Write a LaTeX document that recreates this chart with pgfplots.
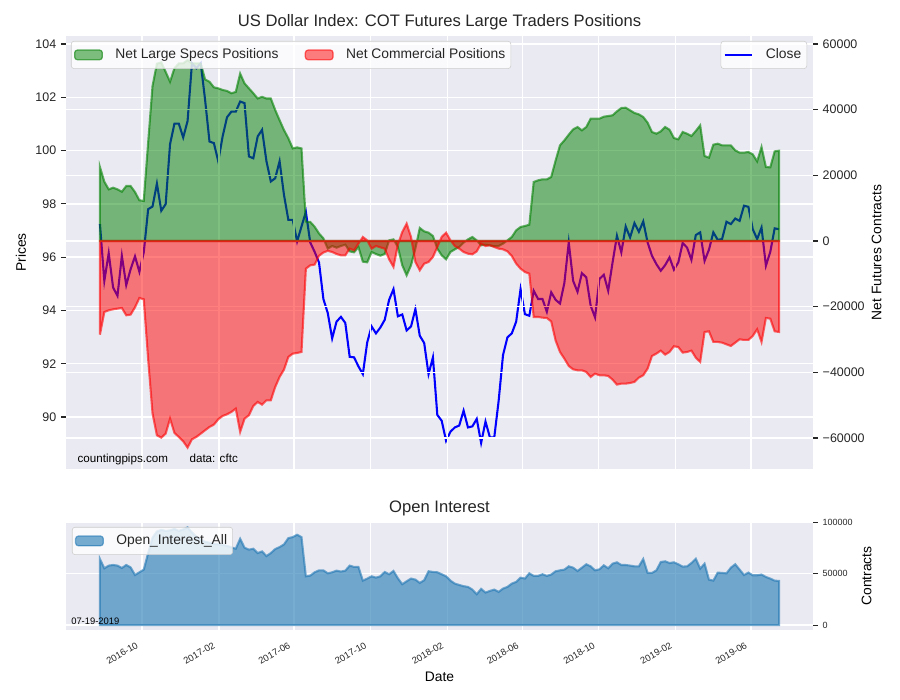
\documentclass[border=0pt]{standalone}
\usepackage{pgfplots}
\pgfplotsset{compat=1.18}
\usepackage{fontspec}
\setmainfont{Liberation Sans}
\definecolor{bg}{HTML}{EAEAF2}
\definecolor{txt}{HTML}{262626}
\definecolor{lgedge}{HTML}{CCCCCC}
\definecolor{mgreen}{RGB}{0,128,0}
\definecolor{mplblue}{HTML}{1F77B4}
\pgfplotsset{
  base/.style={
    scale only axis, width=7.47in, xmin=-121.25, xmax=1072.25,
    scaled y ticks=false, scaled x ticks=false,
    axis line style={draw=none},
    grid=major, grid style={white, line width=1pt},
    xtick={0,123,243,365,488,608,730,853,973},
    xtick style={draw=none},
    tick align=outside, major tick length=3.5pt,
    ytick style={color=txt, line width=0.8pt},
    tick label style={text=txt},
    label style={text=black, font=\fontsize{10}{12}\selectfont},
    /pgf/number format/assume math mode=true,
    legend style={fill=white, fill opacity=0.8, text opacity=1, draw=lgedge, draw opacity=1,
      rounded corners=2pt, font=\fontsize{10}{12}\selectfont, text=txt,
      inner xsep=2pt, inner ysep=3.5pt, nodes={inner sep=2pt},
      /tikz/every odd column/.append style={column sep=7pt},
      /tikz/every even column/.append style={column sep=17pt}},
    legend cell align=left,
  },
  arealeg/.style={legend image code/.code={\draw[##1, line width=0.9pt] (0pt,-3.5pt) rectangle (20pt,3.5pt);}},
  lineleg/.style={legend image code/.code={\draw[##1] (0pt,0pt) -- (20pt,0pt);}},
}
\begin{document}
\begin{tikzpicture}
\path[use as bounding box] (0,0) rectangle (9in,7in);

% ---------- top panel: prices ----------
\begin{axis}[base, at={(0.66in,2.31in)}, anchor=south west, height=4.33in,
  ymin=88.05, ymax=104.3,
  axis background/.style={fill=bg},
  xticklabels={},
  ytick={90,92,94,96,98,100,102,104},
  ytick pos=left,
  yticklabel style={font=\fontsize{9}{10}\selectfont},
  ylabel={Prices}, ylabel style={at={(axis description cs:-0.0602,0.5)}, anchor=center},
]
\addplot[blue, line width=1.5pt] coordinates {
(-67,97.24) (-60,95.11) (-53,96.15) (-46,94.86) (-39,94.55) (-32,96.05) (-25,94.95) (-18,95.55) (-11,96.03) (-4,95.45) (3,96.18) (10,97.8) (17,97.9) (24,98.76) (31,97.74) (38,97.99) (45,100.24) (52,101.01) (59,101.01) (66,100.49) (73,101.11) (80,103.28) (87,103.09) (94,103.28) (101,101.9) (108,100.34) (115,100.28) (122,99.6) (129,100.53) (136,101.25) (143,101.46) (150,101.46) (157,101.84) (164,101.78) (171,99.78) (178,99.71) (185,100.53) (192,100.78) (199,99.6) (206,98.84) (213,98.96) (220,99.6) (227,98.34) (234,97.4) (241,97.4) (248,96.59) (255,97.15) (262,97.7) (269,96.55) (276,96.2) (283,95.8) (290,94.43) (297,93.9) (304,92.95) (311,93.58) (318,93.76) (325,93.53) (332,92.26) (339,92.24) (346,91.9) (353,91.61) (360,92.8) (367,93.4) (374,93.14) (381,93.36) (388,93.65) (395,94.4) (402,94.8) (409,93.78) (416,93.85) (423,93.25) (430,93.4) (437,94.05) (444,93.05) (451,92.78) (458,91.61) (465,92.24) (472,90.08) (479,89.86) (486,89.11) (493,89.45) (500,89.61) (507,89.68) (514,90.24) (521,89.61) (528,89.65) (535,89.93) (542,89.03) (549,89.83) (556,89.24) (563,89.24) (570,90.61) (577,92.33) (584,92.99) (591,93.14) (598,93.58) (605,94.8) (612,93.86) (619,93.8) (626,94.74) (633,94.43) (640,94.43) (647,93.95) (654,94.68) (661,94.4) (668,94.26) (675,95.03) (682,96.55) (689,95.11) (696,94.7) (703,95.4) (710,95.24) (717,94.18) (724,93.74) (731,95.18) (738,95.34) (745,94.74) (752,95.8) (759,96.8) (766,96.18) (773,97.15) (780,96.74) (787,97.28) (794,96.95) (801,97.34) (808,96.55) (815,96.05) (822,95.74) (829,95.49) (836,95.7) (843,95.99) (850,95.53) (857,95.8) (864,96.53) (871,96.36) (878,95.9) (885,96.83) (892,96.93) (899,95.86) (906,96.28) (913,96.93) (920,96.65) (927,96.68) (934,97.33) (941,97.24) (948,97.45) (955,97.36) (962,97.93) (969,97.89) (976,97.05) (983,96.68) (990,97.11) (997,95.68) (1004,96.2) (1011,97.08) (1018,97.05)
};
\end{axis}

% ---------- top panel: net positions ----------
\begin{axis}[base, at={(0.66in,2.31in)}, anchor=south west, height=4.33in,
  ymin=-69440, ymax=62440,
  xticklabels={},
  ytick={-60000,-40000,-20000,0,20000,40000,60000},
  yticklabels={−60000,−40000,−20000,0,20000,40000,60000},
  ytick pos=right, yticklabel pos=right,
  yticklabel style={font=\fontsize{9}{10}\selectfont},
  ylabel={Net Futures Contracts}, ylabel style={at={(axis description cs:1.0853,0.5)}, anchor=center},
  legend columns=2,
  legend style={at={(0,1)}, anchor=north west, xshift=3.6pt, yshift=-3.6pt},
]
\addplot[arealeg, fill=mgreen, fill opacity=0.5, draw=mgreen, draw opacity=0.6, line width=1.5pt] coordinates {
(-67,0) (-67,22500) (-60,18050) (-53,15730) (-46,16230) (-39,15730) (-32,15010) (-25,16740) (-18,16740) (-11,14900) (-4,12400) (3,12200) (10,30000) (17,47200) (24,54000) (31,54400) (38,51500) (45,48500) (52,52600) (59,54100) (66,54100) (73,55100) (80,54100) (87,54100) (94,54100) (101,49200) (108,48500) (115,46800) (122,46500) (129,46000) (136,45700) (143,45000) (150,45400) (157,51000) (164,48000) (171,46500) (178,45000) (185,43400) (192,43900) (199,43400) (206,43400) (213,39900) (220,36800) (227,33800) (234,31300) (241,28200) (248,28500) (255,28200) (262,5900) (269,5800) (276,4350) (283,2300) (290,800) (297,-2330) (304,-1520) (311,-2030) (318,-1520) (325,-1120) (332,-3150) (339,-3450) (346,-1830) (353,-6290) (360,-6500) (367,-3350) (374,-3960) (381,-4470) (388,-3960) (395,200) (402,500) (409,-1830) (416,-7400) (423,-10450) (430,-7400) (437,-2300) (444,3960) (451,2940) (458,2540) (465,1520) (472,-2330) (479,-4360) (486,-5580) (493,-3350) (500,-2540) (507,-1830) (514,-500) (521,500) (528,1220) (535,200) (542,-1320) (549,-1120) (556,-1320) (563,-1620) (570,-1520) (577,-800) (584,200) (591,1220) (598,3250) (605,4260) (612,4570) (619,4970) (626,17970) (633,18470) (640,18780) (647,18780) (654,19500) (661,24500) (668,29130) (675,30650) (682,32380) (689,34000) (696,34710) (703,33700) (710,34710) (717,37250) (724,37250) (731,37250) (738,37860) (745,38060) (752,38270) (759,39480) (766,40500) (773,40600) (780,39790) (787,38980) (794,38570) (801,37760) (808,36030) (815,33190) (822,32680) (829,33390) (836,34710) (843,33900) (850,31360) (857,30960) (864,33190) (871,32680) (878,31970) (885,33500) (892,35220) (899,25880) (906,25380) (913,29330) (920,29640) (927,29130) (934,29130) (941,29130) (948,27610) (955,26900) (962,26900) (969,27100) (976,26390) (983,24260) (990,28620) (997,22530) (1004,22430) (1011,27300) (1018,27500) (1018,0)
} -- cycle;
\addlegendentry{Net Large Specs Positions}
\addplot[arealeg, fill=red, fill opacity=0.5, draw=red, draw opacity=0.6, line width=1.5pt] coordinates {
(-67,0) (-67,-28520) (-60,-21620) (-53,-21110) (-46,-20810) (-39,-20600) (-32,-20400) (-25,-22630) (-18,-22430) (-11,-20200) (-4,-17360) (3,-17760) (10,-36000) (17,-52500) (24,-59170) (31,-59890) (38,-58670) (45,-54100) (52,-58460) (59,-59680) (66,-61000) (73,-62930) (80,-60390) (87,-59680) (94,-58670) (101,-57650) (108,-56640) (115,-55930) (122,-54300) (129,-53290) (136,-52780) (143,-52070) (150,-51050) (157,-58160) (164,-54100) (171,-53080) (178,-50240) (185,-49020) (192,-49840) (199,-48520) (206,-48520) (213,-44460) (220,-41410) (227,-39180) (234,-35320) (241,-34310) (248,-34100) (255,-33800) (262,-8430) (269,-7410) (276,-7200) (283,-4500) (290,-3500) (297,-3000) (304,-3350) (311,-3960) (318,-4360) (325,-4360) (332,-2330) (339,-2840) (346,-810) (353,1220) (360,200) (367,-2330) (374,-1520) (381,-1930) (388,-2330) (395,-5580) (402,-7900) (409,-1120) (416,2740) (423,5280) (430,1220) (437,-6400) (444,-8930) (451,-6900) (458,-6400) (465,-4870) (472,-1830) (479,1220) (486,2540) (493,200) (500,-1520) (507,-2330) (514,-3350) (521,-3860) (528,-4060) (535,-3150) (542,-800) (549,-1520) (556,-1320) (563,-1830) (570,-2330) (577,-2540) (584,-3150) (591,-4570) (598,-6900) (605,-8420) (612,-9440) (619,-9950) (626,-23140) (633,-23140) (640,-23350) (647,-23450) (654,-24500) (661,-30300) (668,-33800) (675,-35830) (682,-38060) (689,-39080) (696,-39380) (703,-39380) (710,-39890) (717,-41410) (724,-40400) (731,-40900) (738,-40900) (745,-41100) (752,-42220) (759,-43740) (766,-43440) (773,-43440) (780,-43240) (787,-42930) (794,-41620) (801,-40900) (808,-38870) (815,-35020) (822,-34300) (829,-33390) (836,-34610) (843,-33800) (850,-32070) (857,-32280) (864,-34000) (871,-33800) (878,-33390) (885,-35530) (892,-36840) (899,-27710) (906,-27510) (913,-30750) (920,-30750) (927,-30960) (934,-31470) (941,-31970) (948,-30960) (955,-29940) (962,-30140) (969,-30140) (976,-28930) (983,-26900) (990,-30750) (997,-23450) (1004,-23650) (1011,-27510) (1018,-27710) (1018,0)
} -- cycle;
\addlegendentry{Net Commercial Positions}
\end{axis}

% ---------- legend for Close ----------
\begin{axis}[base, at={(0.66in,2.31in)}, anchor=south west, height=4.33in,
  hide axis, ymin=0, ymax=1,
  legend style={at={(1,1)}, anchor=north east, xshift=-4.3pt, yshift=-3.6pt},
]
\addlegendimage{lineleg, blue, line width=1.5pt}
\addlegendentry{Close}
\end{axis}

% ---------- bottom panel: open interest ----------
\begin{axis}[base, at={(0.66in,0.70in)}, anchor=south west, height=1.08in,
  ymin=-4770, ymax=100170,
  axis background/.style={fill=bg},
  xticklabels={2016-10,2017-02,2017-06,2017-10,2018-02,2018-06,2018-10,2019-02,2019-06},
  xticklabel style={rotate=30, anchor=north east, font=\fontsize{6.8}{8}\selectfont, xshift=-3pt, yshift=1.5pt},
  ytick={0,50000,100000}, yticklabels={0,50000,100000},
  ytick pos=right, yticklabel pos=right,
  yticklabel style={font=\fontsize{6.5}{7.5}\selectfont},
  ylabel={Contracts}, ylabel style={at={(axis description cs:1.0719,0.5)}, anchor=center},
  xlabel={Date}, xlabel style={at={(axis description cs:0.5,-0.435)}, anchor=center},
  legend style={at={(0,1)}, anchor=north west, xshift=4.3pt, yshift=-3.6pt},
]
\addplot[arealeg, fill=mplblue, fill opacity=0.6, draw=mplblue, draw opacity=0.6, line width=1.5pt] coordinates {
(-67,0) (-67,64200) (-60,55200) (-53,57800) (-46,58400) (-39,57800) (-32,55500) (-25,58400) (-18,56100) (-11,48700) (-4,51300) (3,53900) (10,70000) (17,85000) (24,91000) (31,92500) (38,91500) (45,92000) (52,93500) (59,91500) (66,93000) (73,95000) (80,90000) (87,86000) (94,83000) (101,81000) (108,80000) (115,79000) (122,78500) (129,78000) (136,77000) (143,75500) (150,74200) (157,83900) (164,75200) (171,73300) (178,74200) (185,70000) (192,71600) (199,67100) (206,70000) (213,73900) (220,75800) (227,78400) (234,84500) (241,85500) (248,87800) (255,85500) (262,47400) (269,48100) (276,51300) (283,53200) (290,53200) (297,50300) (304,51300) (311,52900) (318,52000) (325,52900) (332,57800) (339,56500) (346,56500) (353,43200) (360,45200) (367,47400) (374,46100) (381,47400) (388,51600) (395,49400) (402,52600) (409,45500) (416,39700) (423,42600) (430,45200) (437,44200) (444,41000) (451,43600) (458,52300) (465,51600) (472,51300) (479,49400) (486,47400) (493,43200) (500,40300) (507,39000) (514,37800) (521,37100) (528,34500) (535,30000) (542,35200) (549,31600) (556,33200) (563,34500) (570,32300) (577,35500) (584,37100) (591,40300) (598,42000) (605,46100) (612,45200) (619,50300) (626,47800) (633,47800) (640,49400) (647,47800) (654,49100) (661,52300) (668,53200) (675,53900) (682,57100) (689,55800) (696,52600) (703,55800) (710,59100) (717,57100) (724,53200) (731,54200) (738,58100) (745,55200) (752,59700) (759,61000) (766,58400) (773,58400) (780,57800) (787,57100) (794,57100) (801,64200) (808,50700) (815,50700) (822,53200) (829,61300) (836,62000) (843,60300) (850,61000) (857,59100) (864,56800) (871,57100) (878,60300) (885,64500) (892,54900) (899,59700) (906,44200) (913,43200) (920,51000) (927,50700) (934,50300) (941,55800) (948,59100) (955,53900) (962,48700) (969,51000) (976,48400) (983,48400) (990,49100) (997,46800) (1004,45200) (1011,43200) (1018,42900) (1018,0)
} -- cycle;
\addlegendentry{Open\_Interest\_All}
\end{axis}

% ---------- titles and annotations ----------
\node[anchor=base, font=\fontsize{12}{14}\selectfont, text=txt] at (4.395in,6.735in) {US Dollar Index: COT Futures Large Traders Positions};
\node[anchor=base, font=\fontsize{12}{14}\selectfont, text=txt] at (4.395in,1.87in) {Open Interest};
\node[anchor=base west, inner sep=0pt, font=\fontsize{8.4}{10}\selectfont, text=black] at (0.773in,2.373in) {countingpips.com};
\node[anchor=base west, inner sep=0pt, font=\fontsize{8.4}{10}\selectfont, text=black] at (1.893in,2.373in) {data: cftc};
\node[anchor=base west, inner sep=0pt, font=\fontsize{6.8}{8}\selectfont, text=black] at (0.71in,0.757in) {07-19-2019};
\end{tikzpicture}
\end{document}
